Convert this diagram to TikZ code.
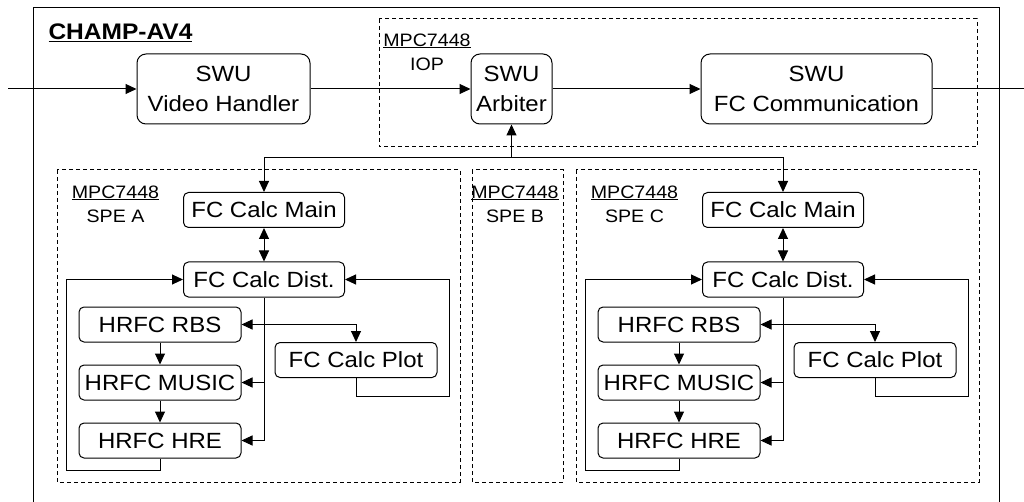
\documentclass[tikz,border=0pt]{standalone}
\usepackage{fontspec}
\setmainfont{Liberation Sans}[FakeStretch=1.09]
\usetikzlibrary{arrows.meta}

\begin{document}
\begin{tikzpicture}[x=1pt, y=-1pt, line width=1pt,
      font=\fontsize{22}{30}\selectfont,
      swu/.style ={draw, rounded corners=9pt, align=center, inner sep=0pt, minimum height=70pt},
      task/.style={draw, rounded corners=5pt, inner sep=0pt, minimum width=162pt, minimum height=35pt},
      cpu/.style ={draw, dash pattern=on 4pt off 3pt},
      cpulbl/.style={font=\fontsize{18}{24}\selectfont, align=center, inner sep=0pt, anchor=north},
      >={Triangle[length=11pt, width=10pt]}
    ]
    \clip (0,0) rectangle (1024,502);

    % Baugruppe
    \draw (33,8) rectangle (999,520);
    \node[anchor=north west, inner sep=0pt, font=\fontsize{22.5}{24}\selectfont\bfseries] (board) at (48,23) {\underline{CHAMP-AV4}};

    % Prozessoren (gestrichelt)
    \draw[cpu] (379,19) rectangle (977,147);
    \draw[cpu] (57,170) rectangle (460,482);
    \draw[cpu] (472,170) rectangle (563,482);
    \draw[cpu] (576,170) rectangle (979,482);

    \node[cpulbl] (lblIOP) at (427,33) {\underline{MPC7448}\\IOP};
    \node[cpulbl] (lblA) at (115.5,185) {\underline{MPC7448}\\SPE A};
    \node[cpulbl] (lblB) at (515,185) {\underline{MPC7448}\\SPE B};
    \node[cpulbl] (lblC) at (634.5,185) {\underline{MPC7448}\\SPE C};

    % SWU-Kette oben
    \node[swu, minimum width=173pt] (video) at (223.5,89) {SWU\\Video Handler};
    \node[swu, minimum width=81pt]  (arb)   at (511.5,89) {SWU\\Arbiter};
    \node[swu, minimum width=231pt] (fccom) at (816.5,89) {SWU\\FC Communication};

    \coordinate (in)  at (8,89);
    \coordinate (out) at (1030,89);
    \draw[->] (in) -- (video);
    \draw[->] (video) -- (arb);
    \draw[->] (arb) -- (fccom);
    \draw (fccom) -- (out);

    % SPE A
    \node[task, minimum width=161pt] (mainA) at (264,210) {FC Calc Main};
    \node[task, minimum width=161pt] (distA) at (264,279.5) {FC Calc Dist.};
    \node[task] (rbsA)   at (160,324.5) {HRFC RBS};
    \node[task] (musicA) at (160,382.5) {HRFC MUSIC};
    \node[task] (hreA)   at (160,440.5) {HRFC HRE};
    \node[task] (plotA)  at (356,360) {FC Calc Plot};
    \coordinate (loopA) at (66,470);
    \coordinate (backA) at (449,396);

    \draw[<->] (mainA) -- (distA);
    \draw[->] (distA) -- (distA.south |- hreA) -- (hreA);
    \draw[->] (distA.south |- rbsA) -- (rbsA);
    \draw[->] (distA.south |- musicA) -- (musicA);
    \draw[->] (distA.south |- rbsA) -| (plotA);
    \draw[->] (rbsA) -- (musicA);
    \draw[->] (musicA) -- (hreA);
    \draw[->] (hreA) |- (loopA) |- (distA);
    \draw[->] (plotA) |- (backA) |- (distA);

    % SPE C
    \node[task, minimum width=161pt] (mainC) at (783,210) {FC Calc Main};
    \node[task, minimum width=161pt] (distC) at (783,279.5) {FC Calc Dist.};
    \node[task] (rbsC)   at (679,324.5) {HRFC RBS};
    \node[task] (musicC) at (679,382.5) {HRFC MUSIC};
    \node[task] (hreC)   at (679,440.5) {HRFC HRE};
    \node[task] (plotC)  at (875,360) {FC Calc Plot};
    \coordinate (loopC) at (585,470);
    \coordinate (backC) at (968,396);

    \draw[<->] (mainC) -- (distC);
    \draw[->] (distC) -- (distC.south |- hreC) -- (hreC);
    \draw[->] (distC.south |- rbsC) -- (rbsC);
    \draw[->] (distC.south |- musicC) -- (musicC);
    \draw[->] (distC.south |- rbsC) -| (plotC);
    \draw[->] (rbsC) -- (musicC);
    \draw[->] (musicC) -- (hreC);
    \draw[->] (hreC) |- (loopC) |- (distC);
    \draw[->] (plotC) |- (backC) |- (distC);

    % Verbindung Arbiter <-> SPE A/C
    \coordinate (busA) at (264,158);
    \coordinate (busC) at (783,158);
    \draw[<->] (mainA) -- (busA) -- (busC) -- (mainC);
    \draw[->] (arb |- busA) -- (arb);
  \end{tikzpicture}
\end{document}
